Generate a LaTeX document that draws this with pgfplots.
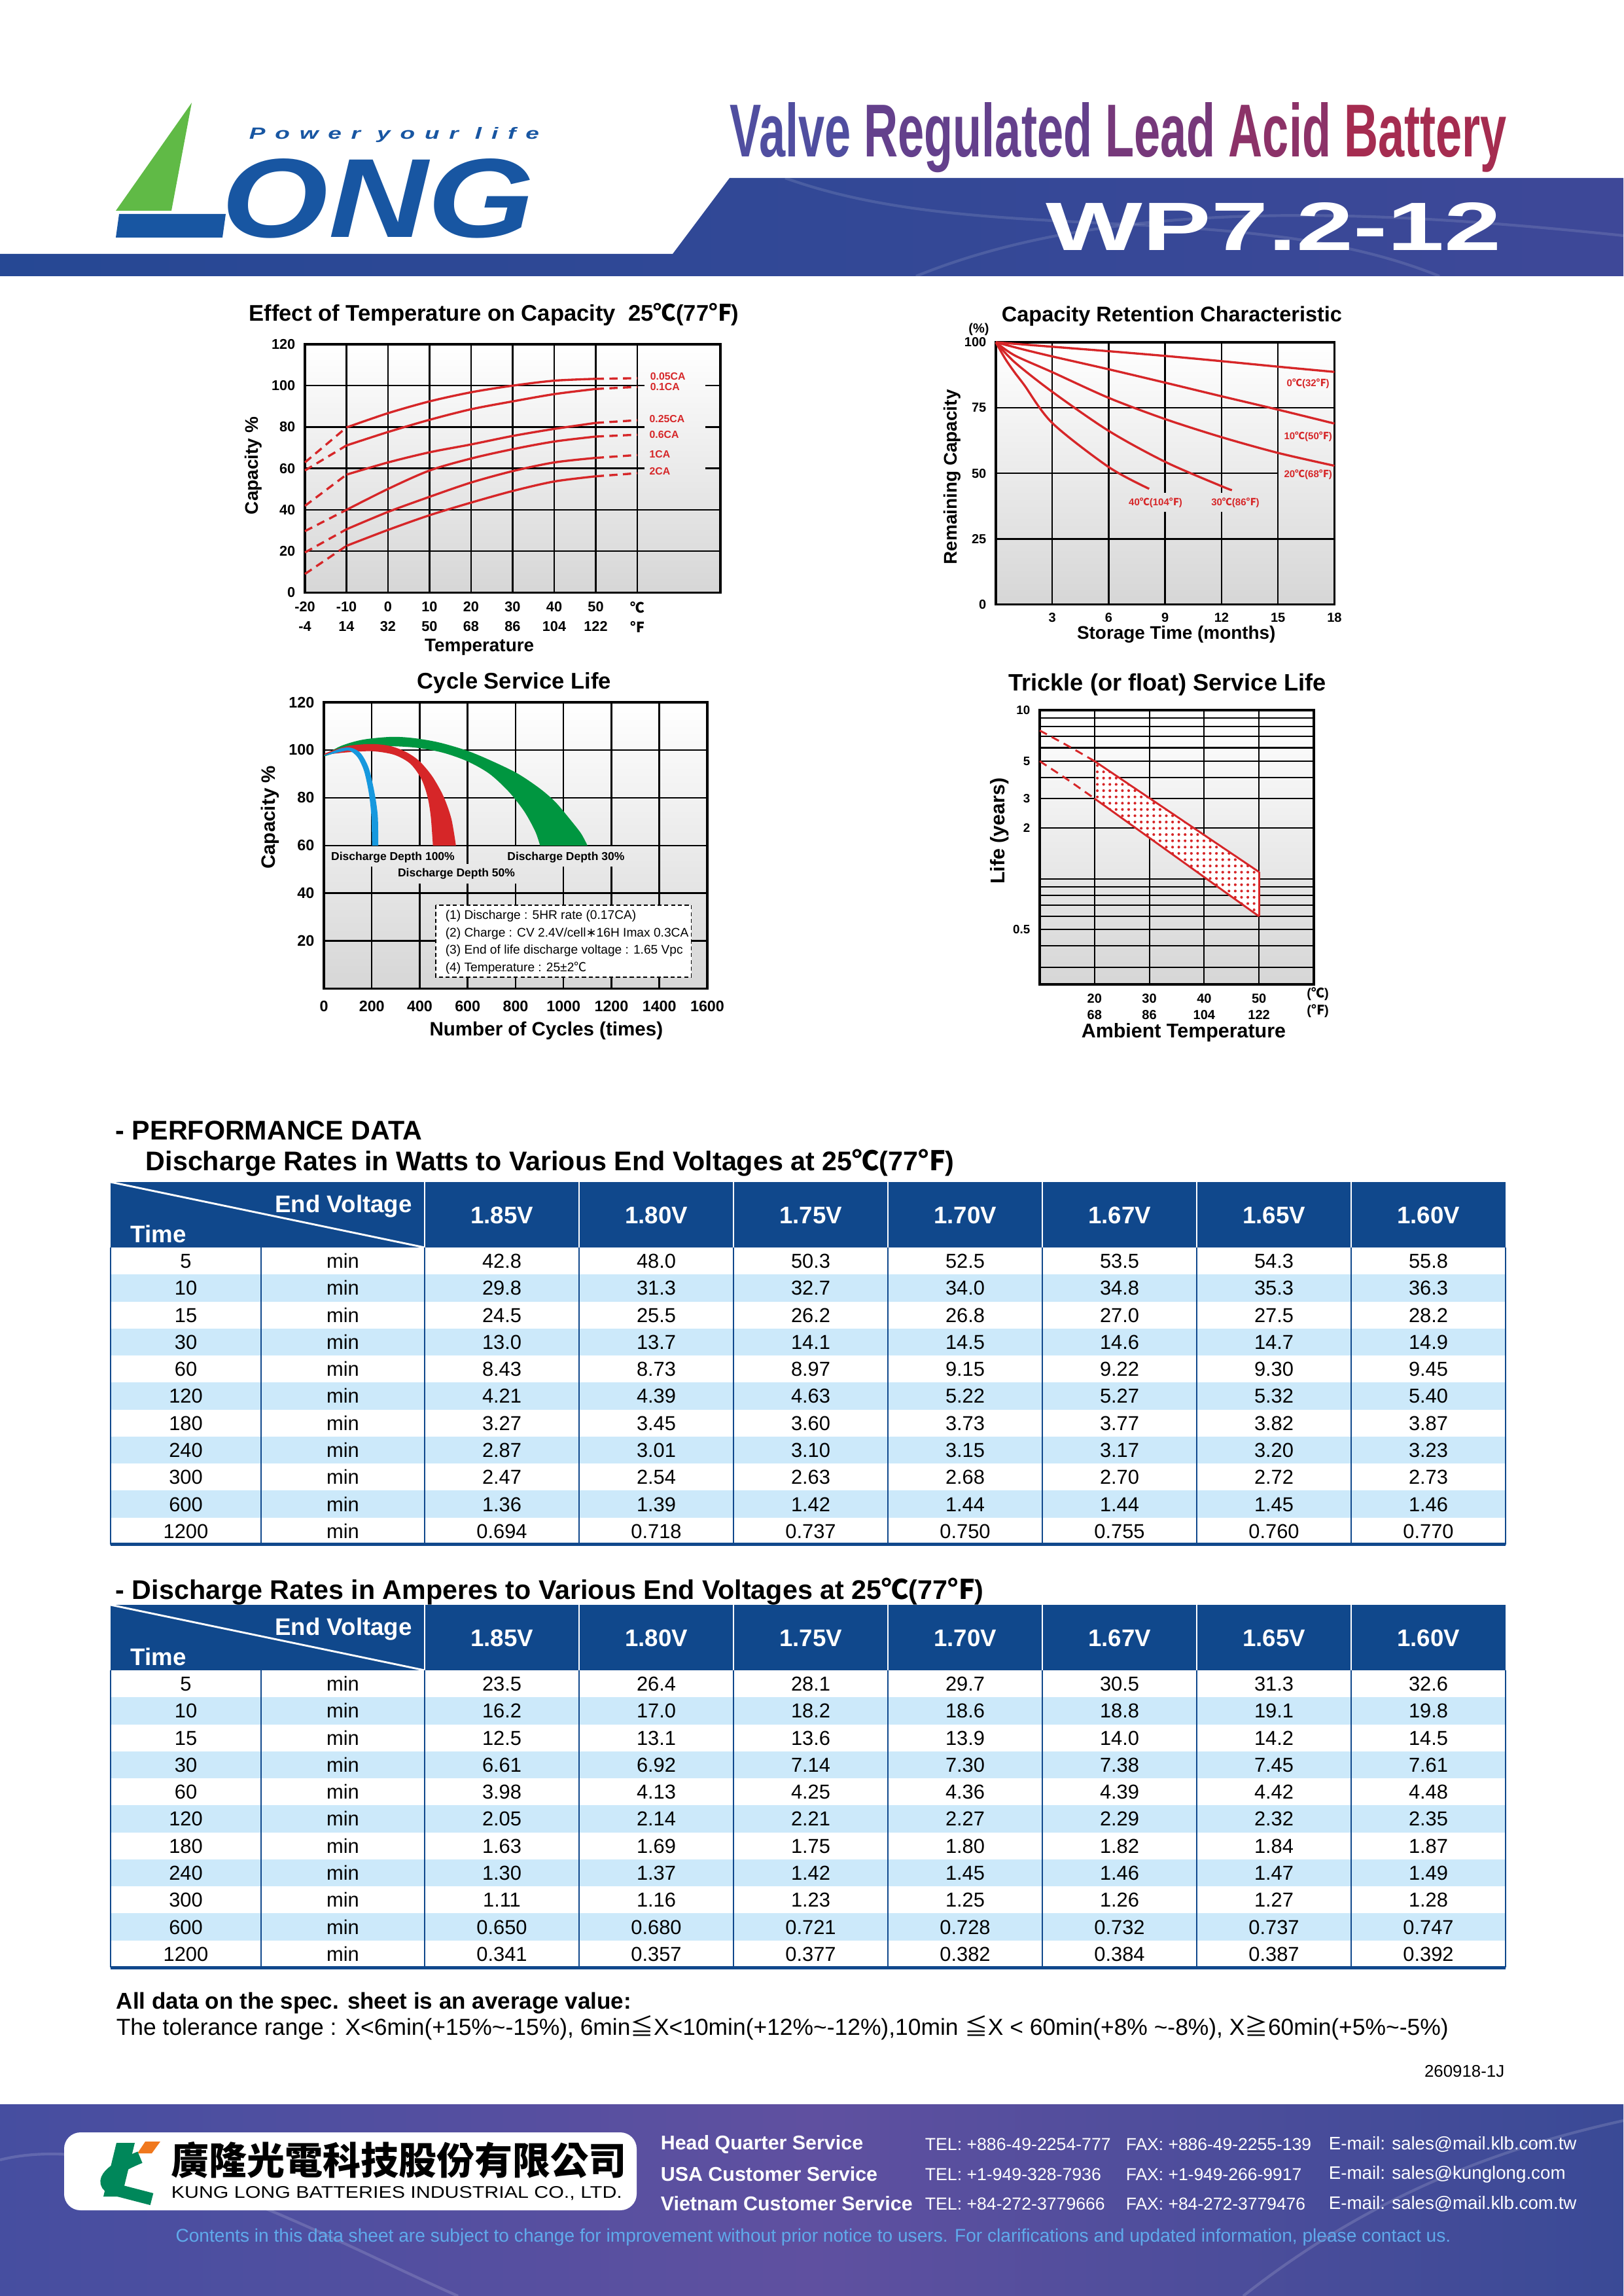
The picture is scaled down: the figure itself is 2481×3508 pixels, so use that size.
\documentclass[border=0pt]{standalone}
\usepackage{pgfplots}
\pgfplotsset{compat=1.18}
\usetikzlibrary{patterns.meta}
\usepackage{graphicx}
\usepackage{fontspec}
\setmainfont{Liberation Sans}
\newfontfamily\cjk{Noto Sans CJK TC}
\newfontfamily\djv{DejaVu Sans}
\newfontfamily\spaced[LetterSpace=40]{Liberation Sans}
\newlength\px \setlength\px{0.24pt}
\newcommand\fs[1]{\fontsize{#1pt}{#1pt}\selectfont}
\newcommand\dC{{\cjk ℃}}
\newcommand\dF{{\cjk ℉}}
\definecolor{hdrblue}{RGB}{16,72,140}
\definecolor{rowblue}{RGB}{204,233,250}
\definecolor{cred}{RGB}{214,38,40}
\definecolor{cgreen}{RGB}{0,150,64}
\definecolor{cblue}{RGB}{22,152,222}
\definecolor{hb1}{RGB}{38,72,148}
\definecolor{hb2}{RGB}{62,72,152}
\definecolor{fb1}{RGB}{70,78,160}
\definecolor{fb2}{RGB}{95,80,160}
\definecolor{fb3}{RGB}{58,74,150}
\definecolor{logoblue}{RGB}{24,86,162}
\definecolor{logogreen}{RGB}{96,186,70}
\definecolor{kgreen}{RGB}{0,135,90}
\definecolor{korange}{RGB}{240,120,30}
\definecolor{v1}{RGB}{80,78,160}
\definecolor{v2}{RGB}{100,64,140}
\definecolor{v3}{RGB}{118,56,122}
\definecolor{v4}{RGB}{140,50,104}
\definecolor{v5}{RGB}{165,44,80}
\definecolor{discl}{RGB}{95,170,235}
\pgfplotsset{
  chartbase/.style={scale only axis, clip=false, anchor=south west,
    axis line style={line width=0.9pt, black},
    tick style={draw=none}, major tick length=0pt, minor tick length=0pt,
    axis background/.style={top color=white, bottom color=black!16},
    scaled ticks=false,
    label style={font=\bfseries\fs{6.7}},
  },
}
\tikzset{gl/.style={black, line width=0.6pt},
  rc/.style={cred, line width=0.8pt},
  rcd/.style={cred, line width=0.8pt, dash pattern=on 3pt off 2pt}}

\newcommand\perftable[2]{%
  \pgfmathsetmacro\HB{#1+100}%
  \pgfmathsetmacro\TB{#1+100+41.27*11}%
  \fill[hdrblue] (169,#1) rectangle (2301,\HB);
  \foreach \r in {1,3,5,7,9}{\fill[rowblue] (169,{\HB+41.27*\r}) rectangle (2301,{\HB+41.27*(\r+1)});}
  \foreach \xx in {649,885,1121,1357,1593,1829,2065}{\draw[white,line width=0.7pt] (\xx,#1) -- (\xx,\HB);}
  \draw[white,line width=0.7pt] (169,#1) -- (649,\HB);
  \node[white,font=\bfseries\fs{8.8}] at (525,{#1+37}) {End Voltage};
  \node[white,font=\bfseries\fs{8.8}] at (242,{#1+79}) {Time};
  \foreach \v [count=\k from 0] in {1.85V,1.80V,1.75V,1.70V,1.67V,1.65V,1.60V}{\node[white,font=\bfseries\fs{8.8}] at ({767+236*\k},{#1+51}) {\v};}
  \foreach \xx in {169,399,649,885,1121,1357,1593,1829,2065,2301}{\draw[hdrblue,line width=0.5pt] (\xx,\HB) -- (\xx,\TB);}
  \draw[hdrblue,line width=1.2pt] (169,\TB) -- (2301,\TB);
  \foreach \tm/\va/\vb/\vc/\vd/\ve/\vf/\vg [count=\r from 0] in {#2}{%
    \pgfmathsetmacro\yc{\HB+41.27*\r+31.6}
    \node[font=\fs{7.4},anchor=base] at (284,\yc) {\tm};
    \node[font=\fs{7.4},anchor=base] at (524,\yc) {min};
    \foreach \v [count=\k from 0] in {\va,\vb,\vc,\vd,\ve,\vf,\vg}{\node[font=\fs{7.4},anchor=base] at ({767+236*\k},\yc) {\v};}
  }%
}

\begin{document}
\begin{tikzpicture}[x=0.24pt,y=-0.24pt]
\useasboundingbox (0,0) rectangle (2481,3508);
\fill[white] (0,0) rectangle (2481,3508);

% ---------------- header ----------------
\shade[left color=hb1, right color=hb2] (0,388) -- (1028,388) -- (1115,272) -- (2481,272) -- (2481,422) -- (0,422) -- cycle;
\draw[white, opacity=0.12, line width=1pt] (1200,272) .. controls (1500,380) and (1900,300) .. (2200,422);
\draw[white, opacity=0.12, line width=1pt] (1400,422) .. controls (1700,300) and (2100,320) .. (2481,360);
\fill[logogreen] (293,157) -- (262,322) -- (177,322) -- cycle;
\fill[logoblue] (182,327) -- (345,327) -- (340,363) -- (177,363) -- cycle;
\node[anchor=base west, inner sep=0] at (338,363) {\resizebox{478\px}{120\px}{\color{logoblue}\bfseries\itshape ONG}};
\node[anchor=base west, inner sep=0] at (380,213) {\resizebox{443\px}{18\px}{\color{logoblue}\spaced\bfseries\itshape Power your life}};
\node[anchor=base west, inner sep=0] at (1115,240) {\resizebox{1187\px}{83\px}{\bfseries\textcolor{v1}{Valve} \textcolor{v2}{Regulated} \textcolor{v3}{Lead} \textcolor{v4}{Acid} \textcolor{v5}{Battery}}};
\node[anchor=base west, inner sep=0] at (1598,383) {\resizebox{696\px}{73\px}{\color{white}\bfseries WP7.2-12}};

% ---------------- chart 1: temperature ----------------
\begin{axis}[chartbase,
  at={(111.84pt,-217.32pt)}, width=152.4pt, height=91.08pt,
  xmin=-20, xmax=80, ymin=0, ymax=120,
  xtick={-20,-10,0,10,20,30,40,50,60},
  xticklabels={{-20\\-4},{-10\\14},{0\\32},{10\\50},{20\\68},{30\\86},{40\\104},{50\\122},{\dC\\\dF}},
  xticklabel style={align=center, font=\bfseries\fontsize{5.2}{7}\selectfont},
  xticklabel shift=-0.1pt,
  ytick={0,20,40,60,80,100,120}, yticklabels={0,20,40,60,80,100,120},
  yticklabel style={font=\bfseries\fs{5.2}},
  xlabel={Temperature}, ylabel={Capacity \%},
  xlabel style={at={(axis description cs:0.42,-0.22)}, anchor=center},
  ylabel style={at={(axis description cs:-0.124,0.511)}, anchor=center},
]
\draw[gl] (axis cs:-20,20) -- (axis cs:80,20);
\draw[gl] (axis cs:-20,40) -- (axis cs:80,40);
\pgfplotsinvokeforeach{60,80,100}{\draw[gl] (axis cs:-20,#1) -- (axis cs:61.7,#1) (axis cs:76.3,#1) -- (axis cs:80,#1);}
\pgfplotsinvokeforeach{-10,0,10,20,30,40,50,60}{\draw[gl] (axis cs:#1,0) -- (axis cs:#1,120);}
% 0.05CA
\addplot[rcd] coordinates {(-20,62.9) (-10,79.8)};
\addplot[rc, smooth] coordinates {(-10,79.8) (0,86.7) (10,92.4) (20,96.8) (30,100) (40,102.4) (50,103.3)};
\addplot[rcd] coordinates {(50,103.3) (60,103.6)};
% 0.1CA
\addplot[rcd] coordinates {(-20,59) (-10,71.1)};
\addplot[rc, smooth] coordinates {(-10,71.1) (0,77.6) (10,83.5) (20,88.6) (30,92.4) (40,95.9) (50,98.4)};
\addplot[rcd] coordinates {(50,98.4) (60,99.4)};
% 0.25CA
\addplot[rcd] coordinates {(-20,41.9) (-10,57)};
\addplot[rc, smooth] coordinates {(-10,57) (0,62.9) (10,67.8) (20,71.6) (30,75.7) (40,79.1) (50,82)};
\addplot[rcd] coordinates {(50,82) (60,83.3)};
% 0.6CA
\addplot[rcd] coordinates {(-20,29.7) (-10,40)};
\addplot[rc, smooth] coordinates {(-10,40) (0,50.1) (10,59) (20,64.8) (30,69.3) (40,73) (50,75.4)};
\addplot[rcd] coordinates {(50,75.4) (60,76.3)};
% 1CA
\addplot[rcd] coordinates {(-20,19.4) (-10,30.6)};
\addplot[rc, smooth] coordinates {(-10,30.6) (0,39) (10,46.3) (20,53.2) (30,58.7) (40,62.9) (50,65.1)};
\addplot[rcd] coordinates {(50,65.1) (60,66.5)};
% 2CA
\addplot[rcd] coordinates {(-20,9) (-10,22.6)};
\addplot[rc, smooth] coordinates {(-10,22.6) (0,30.3) (10,37.4) (20,43.5) (30,49.1) (40,53.7) (50,56.2)};
\addplot[rcd] coordinates {(50,56.2) (60,57.7)};
\begin{scope}[every node/.style={anchor=west, text=cred, font=\bfseries\fs{3.8}, inner sep=0}]
\node at (axis cs:63,104.5) {0.05CA};
\node at (axis cs:63,99.4) {0.1CA};
\node at (axis cs:62.8,84) {0.25CA};
\node at (axis cs:62.8,76.3) {0.6CA};
\node at (axis cs:62.8,66.8) {1CA};
\node at (axis cs:62.8,58.6) {2CA};
\end{scope}
\end{axis}
\node[font=\bfseries\fs{8.3}] at (755,480) {Effect of Temperature on Capacity\ \ 25\dC(77\dF)};

% ---------------- chart 2: capacity retention ----------------
\begin{axis}[chartbase,
  at={(365.28pt,-221.64pt)}, width=124.2pt, height=96.12pt,
  xmin=0, xmax=18, ymin=0, ymax=100,
  xtick={3,6,9,12,15,18}, xticklabels={3,6,9,12,15,18},
  ytick={0,25,50,75,100}, yticklabels={0,25,50,75,100},
  ticklabel style={font=\bfseries\fs{4.8}},
  xticklabel shift=-0.4pt,
  xlabel={Storage Time (months)}, ylabel={Remaining Capacity},
  xlabel style={at={(axis description cs:0.533,-0.114)}, anchor=center},
  ylabel style={at={(axis description cs:-0.128,0.486)}, anchor=center},
]
\pgfplotsinvokeforeach{3,6,15}{\draw[gl] (axis cs:#1,0) -- (axis cs:#1,100);}
\pgfplotsinvokeforeach{9,12}{\draw[gl] (axis cs:#1,0) -- (axis cs:#1,35.3) (axis cs:#1,42.6) -- (axis cs:#1,100);}
\draw[gl] (axis cs:0,25) -- (axis cs:18,25);
\draw[gl] (axis cs:0,75) -- (axis cs:18,75);
\draw[gl] (axis cs:0,50) -- (axis cs:15,50);
\addplot[rc, smooth] coordinates {(0,100) (3,98.3) (6,96.6) (9,94.8) (12,92.8) (15,90.7) (18,88.7)};
\addplot[rc, smooth] coordinates {(0,100) (1.5,97.2) (3,94.6) (6,89.7) (9,84.6) (12,79.4) (15,74.3) (18,69.0)};
\addplot[rc, smooth] coordinates {(0,100) (1,95) (3,88.6) (6,78.8) (9,70.7) (12,63.8) (15,57.8) (18,52.9)};
\addplot[rc, smooth] coordinates {(0,100) (1,92.4) (3,81.1) (6,66.2) (9,54.4) (12,45.1) (12.55,43.6)};
\addplot[rc, smooth] coordinates {(0,100) (0.5,93.7) (1,88.5) (1.5,83.8) (3,69.2) (6,52.4) (8.15,44.1)};
\begin{scope}[every node/.style={text=cred, font=\bfseries\fs{3.6}, inner sep=0}]
\node at (axis cs:16.6,84.3) {0\dC(32\dF)};
\node at (axis cs:16.6,64) {10\dC(50\dF)};
\node at (axis cs:16.6,49.4) {20\dC(68\dF)};
\node at (axis cs:8.49,38.7) {40\dC(104\dF)};
\node at (axis cs:12.73,38.7) {30\dC(86\dF)};
\end{scope}
\end{axis}
\node[font=\bfseries\fs{7.8}] at (1791,483) {Capacity Retention Characteristic};
\node[font=\bfseries\fs{4.8}] at (1496,503) {(\%)};

% ---------------- chart 3: cycle service life ----------------
\begin{axis}[chartbase,
  at={(118.8pt,-362.544pt)}, width=140.64pt, height=105.024pt,
  xmin=0, xmax=1600, ymin=0, ymax=120,
  xtick={0,200,400,600,800,1000,1200,1400,1600},
  xticklabels={0,200,400,600,800,1000,1200,1400,1600},
  ytick={20,40,60,80,100,120}, yticklabels={20,40,60,80,100,120},
  ticklabel style={font=\bfseries\fs{5.6}},
  xticklabel shift=0.9pt,
  xlabel={Number of Cycles (times)}, ylabel={Capacity \%},
  label style={font=\bfseries\fs{7.1}},
  xlabel style={at={(axis description cs:0.58,-0.146)}, anchor=center},
  ylabel style={at={(axis description cs:-0.14,0.598)}, anchor=center},
]
\pgfplotsinvokeforeach{20,40,60,80,100}{\draw[gl] (axis cs:0,#1) -- (axis cs:1600,#1);}
\draw[gl] (axis cs:200,0) -- (axis cs:200,51.2) (axis cs:200,60) -- (axis cs:200,120);
\draw[gl] (axis cs:400,0) -- (axis cs:400,43.9) (axis cs:400,60) -- (axis cs:400,120);
\draw[gl] (axis cs:600,0) -- (axis cs:600,43.9) (axis cs:600,52.3) -- (axis cs:600,120);
\draw[gl] (axis cs:800,0) -- (axis cs:800,43.9) (axis cs:800,60) -- (axis cs:800,120);
\draw[gl] (axis cs:1000,0) -- (axis cs:1000,51.2) (axis cs:1000,60) -- (axis cs:1000,120);
\draw[gl] (axis cs:1200,0) -- (axis cs:1200,51.2) (axis cs:1200,60) -- (axis cs:1200,120);
\draw[gl] (axis cs:1400,0) -- (axis cs:1400,120);
% discharge depth 30% (green band): lower edge reversed, then upper edge
\addplot[fill=cgreen, draw=none, smooth] coordinates {(902,60) (882,65.9) (836,74.3) (770,82.7) (690,90.1) (598,95.3) (492,99.0) (373,101.1) (227,101.6) (95,100.1) (0,97.4) (69,101.6) (161,104.3) (280,105.5) (373,105.0) (479,103.2) (598,99.7) (703,95.3) (809,90.1) (902,83.8) (968,78.0) (1034,70.1) (1074,64.9) (1100,60)} -- cycle;
% discharge depth 50% (red band)
\addplot[fill=cred, draw=none, smooth] coordinates {(455,60) (446,72.2) (432,80.6) (406,88.0) (360,94.3) (293,98.0) (201,99.5) (95,99.0) (0,98.2) (95,101.6) (201,102.5) (280,101.6) (346,99.0) (399,95.3) (452,89.0) (499,80.6) (532,71.2) (551,60)} -- cycle;
% discharge depth 100% (blue band)
\addplot[fill=cblue, draw=none, smooth] coordinates {(201,60) (198,72.2) (188,81.7) (168,91.1) (141,96.9) (108,99.7) (82,99.5) (0,97.6) (69,100.6) (115,100.9) (155,98.5) (188,92.2) (212,81.7) (225,72.2) (227,60)} -- cycle;
\begin{scope}[every node/.style={font=\bfseries\fs{4.2}, inner sep=0}]
\node at (axis cs:288,54.9) {Discharge Depth 100\%};
\node at (axis cs:553,48.1) {Discharge Depth 50\%};
\node at (axis cs:1010,54.9) {Discharge Depth 30\%};
\end{scope}
\end{axis}
\node[font=\bfseries\fs{8.3}] at (786,1044) {Cycle Service Life};
\draw[fill=white, line width=0.4pt, dash pattern=on 1.5pt off 1pt] (666,1383) rectangle (1056.6,1493);
\begin{scope}[every node/.style={anchor=west, font=\fs{4.6}, inner sep=0}]
\node at (680,1399.6) {(1) Discharge : 5HR rate (0.17CA)};
\node at (680,1426.4) {(2) Charge : CV 2.4V/cell{\djv ∗}16H Imax 0.3CA};
\node at (680,1452.8) {(3) End of life discharge voltage : 1.65 Vpc};
\node at (680,1478.8) {(4) Temperature : 25±2\dC};
\end{scope}

% ---------------- chart 4: trickle life ----------------
\begin{axis}[chartbase,
  at={(381.36pt,-360.888pt)}, width=100.56pt, height=100.392pt,
  xmin=10, xmax=60, ymode=log, ymin=0.2376, ymax=10,
  xtick={20,30,40,50},
  xticklabels={{20\\68},{30\\86},{40\\104},{50\\122}},
  xticklabel style={align=center, font=\bfseries\fontsize{4.8}{6.1}\selectfont},
  ytick={0.5,2,3,5,10}, yticklabels={0.5,2,3,5,10},
  yticklabel style={font=\bfseries\fs{4.5}},
  xlabel={Ambient Temperature}, ylabel={Life (years)},
  label style={font=\bfseries\fs{7.3}},
  xlabel style={at={(axis description cs:0.525,-0.176)}, anchor=center},
  ylabel style={at={(axis description cs:-0.146,0.559)}, anchor=center},
]
\pgfplotsinvokeforeach{0.3,0.4,0.5,0.6,0.7,0.8,0.9,1,2,3,4,5,6,7,8,9}{\draw[black, line width=0.5pt] (axis cs:10,#1) -- (axis cs:60,#1);}
\pgfplotsinvokeforeach{20,30,40,50}{\draw[black, line width=0.5pt] (axis cs:#1,0.2376) -- (axis cs:#1,10);}
\addplot[fill=white, draw=none] coordinates {(20,5) (50,1.1) (50,0.6) (20,3)} -- cycle;
\addplot[draw=none, pattern={Dots[distance=2.3pt, radius=0.5pt]}, pattern color=cred] coordinates {(20,5) (50,1.1) (50,0.6) (20,3)} -- cycle;
\draw[black, line width=0.5pt] (axis cs:20,3) -- (axis cs:20,5);
\addplot[cred, line width=0.7pt] coordinates {(20,5) (50,1.1)};
\addplot[cred, line width=0.7pt] coordinates {(20,3) (50,0.6)};
\addplot[cred, line width=0.7pt] coordinates {(50,1.1) (50,0.6)};
\addplot[cred, line width=0.7pt, dash pattern=on 3pt off 2pt, smooth] coordinates {(10,7.6) (15,6.2) (20,5)};
\addplot[cred, line width=0.7pt, dash pattern=on 3pt off 2pt, smooth] coordinates {(10,5) (15,3.9) (20,3)};
\end{axis}
\node[font=\bfseries\fs{8.7}] at (1784,1046) {Trickle (or float) Service Life};
\node[font=\bfseries\fs{4.8}] at (2014,1519) {(\dC)};
\node[font=\bfseries\fs{4.8}] at (2014,1545) {(\dF)};

% ---------------- performance data ----------------
\node[anchor=west, font=\bfseries\fs{9.9}, inner sep=0] at (176,1727) {- PERFORMANCE DATA};
\node[anchor=west, font=\bfseries\fs{9.9}, inner sep=0] at (222,1777) {Discharge Rates in Watts to Various End Voltages at 25\dC(77\dF)};
\perftable{1806}{5/42.8/48.0/50.3/52.5/53.5/54.3/55.8,
10/29.8/31.3/32.7/34.0/34.8/35.3/36.3,
15/24.5/25.5/26.2/26.8/27.0/27.5/28.2,
30/13.0/13.7/14.1/14.5/14.6/14.7/14.9,
60/8.43/8.73/8.97/9.15/9.22/9.30/9.45,
120/4.21/4.39/4.63/5.22/5.27/5.32/5.40,
180/3.27/3.45/3.60/3.73/3.77/3.82/3.87,
240/2.87/3.01/3.10/3.15/3.17/3.20/3.23,
300/2.47/2.54/2.63/2.68/2.70/2.72/2.73,
600/1.36/1.39/1.42/1.44/1.44/1.45/1.46,
1200/0.694/0.718/0.737/0.750/0.755/0.760/0.770}

\node[anchor=west, font=\bfseries\fs{9.9}, inner sep=0] at (176,2432) {- Discharge Rates in Amperes to Various End Voltages at 25\dC(77\dF)};
\perftable{2452}{5/23.5/26.4/28.1/29.7/30.5/31.3/32.6,
10/16.2/17.0/18.2/18.6/18.8/19.1/19.8,
15/12.5/13.1/13.6/13.9/14.0/14.2/14.5,
30/6.61/6.92/7.14/7.30/7.38/7.45/7.61,
60/3.98/4.13/4.25/4.36/4.39/4.42/4.48,
120/2.05/2.14/2.21/2.27/2.29/2.32/2.35,
180/1.63/1.69/1.75/1.80/1.82/1.84/1.87,
240/1.30/1.37/1.42/1.45/1.46/1.47/1.49,
300/1.11/1.16/1.23/1.25/1.26/1.27/1.28,
600/0.650/0.680/0.721/0.728/0.732/0.737/0.747,
1200/0.341/0.357/0.377/0.382/0.384/0.387/0.392}

\node[anchor=west, font=\bfseries\fs{8.4}, inner sep=0] at (177,3060) {All data on the spec. sheet is an average value:};
\node[anchor=west, font=\fs{8.5}, inner sep=0] at (177,3098) {The tolerance range : X<6min(+15\%\textasciitilde-15\%), 6min{\cjk ≦}X<10min(+12\%\textasciitilde-12\%),10min {\cjk ≦}X < 60min(+8\% \textasciitilde-8\%), X{\cjk ≧}60min(+5\%\textasciitilde-5\%)};
\node[anchor=east, font=\fs{6.2}, inner sep=0] at (2300,3165) {260918-1J};

% ---------------- footer ----------------
\shade[left color=fb1, right color=fb3, middle color=fb2] (0,3215) rectangle (2481,3508);
\draw[white, opacity=0.15, line width=1pt] (0,3300) .. controls (200,3250) and (500,3420) .. (700,3508);
\draw[white, opacity=0.15, line width=1pt] (1900,3508) .. controls (2100,3350) and (2300,3280) .. (2481,3240);
\fill[white, rounded corners=6pt] (98,3258) rectangle (973,3377);
\fill[korange] (222,3272) -- (245,3272) -- (232,3290) -- (210,3290) -- cycle;
\fill[kgreen] (178,3274) -- (206,3274) -- (186,3356) -- (158,3356) -- cycle;
\draw[kgreen, line width=4.5pt] (214,3296) .. controls (160,3318) and (150,3338) .. (178,3346) -- (232,3360);
\node[anchor=base west, inner sep=0] at (261,3322) {\resizebox{696\px}{!}{\cjk\bfseries 廣隆光電科技股份有限公司}};
\node[anchor=base west, inner sep=0] at (261,3358) {\resizebox{689\px}{18\px}{KUNG LONG BATTERIES INDUSTRIAL CO., LTD.}};
\begin{scope}[every node/.style={anchor=west, text=white, inner sep=0}]
\node[font=\bfseries\fs{7.3}] at (1009,3276) {Head Quarter Service};
\node[font=\bfseries\fs{7.3}] at (1009,3322) {USA Customer Service};
\node[font=\bfseries\fs{7.3}] at (1009,3367) {Vietnam Customer Service};
\node[font=\fs{6.4}] at (1413,3276) {TEL: +886-49-2254-777};
\node[font=\fs{6.4}] at (1413,3322) {TEL: +1-949-328-7936};
\node[font=\fs{6.4}] at (1413,3367) {TEL: +84-272-3779666};
\node[font=\fs{6.35}] at (1720,3276) {FAX: +886-49-2255-139};
\node[font=\fs{6.35}] at (1720,3322) {FAX: +1-949-266-9917};
\node[font=\fs{6.35}] at (1720,3367) {FAX: +84-272-3779476};
\node[font=\fs{6.65}] at (2030,3276) {E-mail: sales@mail.klb.com.tw};
\node[font=\fs{6.65}] at (2030,3322) {E-mail: sales@kunglong.com};
\node[font=\fs{6.65}] at (2030,3367) {E-mail: sales@mail.klb.com.tw};
\end{scope}
\node[text=discl, font=\fs{6.75}] at (1243,3418) {Contents in this data sheet are subject to change for improvement without prior notice to users. For clarifications and updated information, please contact us.};
\end{tikzpicture}
\end{document}
